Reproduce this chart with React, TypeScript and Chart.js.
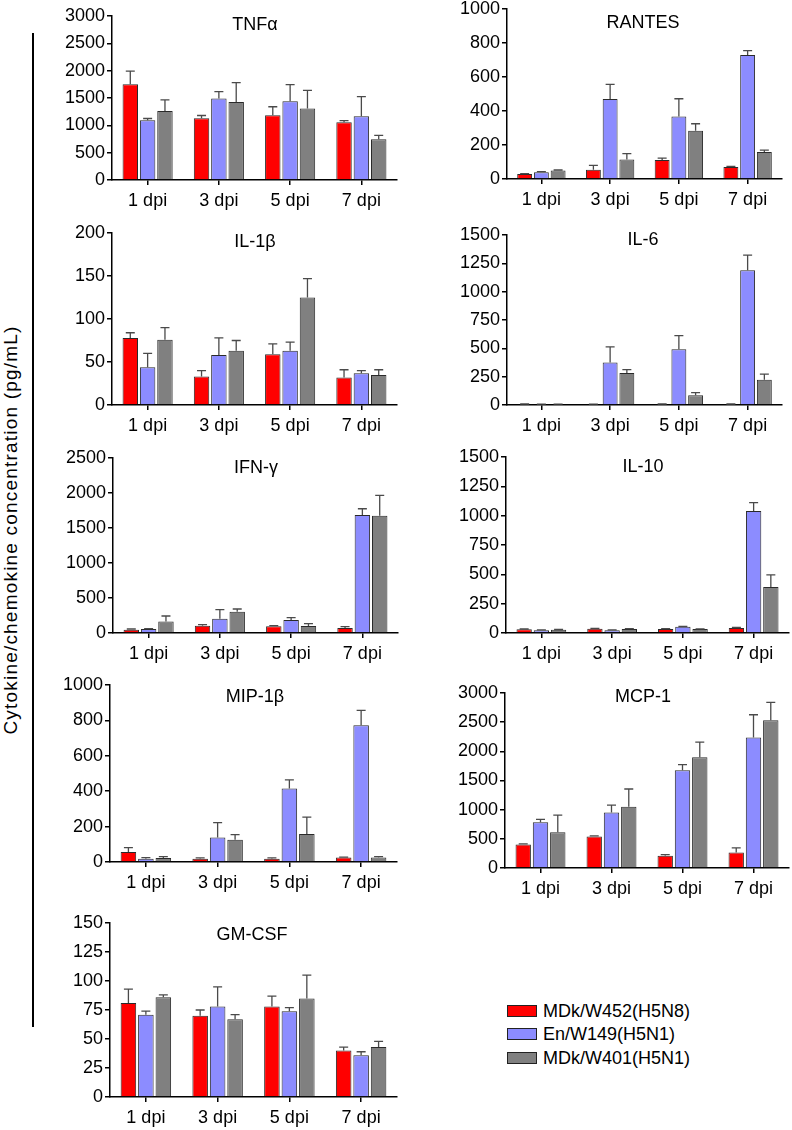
import React, { useEffect, useRef } from "react";
import { Chart, registerables } from "chart.js";

Chart.register(...registerables);

const FONT = "'Liberation Sans', Arial, Helvetica, sans-serif";

// ---------------- data ----------------
const categories = ["1 dpi", "3 dpi", "5 dpi", "7 dpi"];
const seriesNames = ["MDk/W452(H5N8)", "En/W149(H5N1)", "MDk/W401(H5N1)"];

// TNFα
const tnfRed = [1750, 1130, 1185, 1055];
const tnfRedErr = [240, 50, 155, 30];
const tnfBlue = [1095, 1490, 1440, 1165];
const tnfBlueErr = [30, 125, 305, 360];
const tnfGray = [1260, 1425, 1310, 745];
const tnfGrayErr = [205, 355, 330, 70];

// RANTES
const rantesRed = [30, 55, 112, 71];
const rantesRedErr = [2, 25, 11, 3];
const rantesBlue = [40, 470, 368, 729];
const rantesBlueErr = [3, 87, 104, 26];
const rantesGray = [50, 114, 284, 159];
const rantesGrayErr = [3, 35, 41, 11];

// IL-1β
const il1Red = [78, 33, 59, 32];
const il1RedErr = [6, 7, 12, 9];
const il1Blue = [44, 58, 63, 37];
const il1BlueErr = [16, 20, 10, 3];
const il1Gray = [76, 63, 125, 35];
const il1GrayErr = [14, 12, 22, 6];

// IL-6
const il6Red = [8, 6, 8, 8];
const il6RedErr = [1, 1, 1, 1];
const il6Blue = [6, 376, 491, 1188];
const il6BlueErr = [1, 136, 121, 135];
const il6Gray = [6, 282, 85, 223];
const il6GrayErr = [1, 30, 24, 50];

// IFN-γ
const ifnRed = [48, 105, 95, 71];
const ifnRedErr = [9, 14, 10, 19];
const ifnBlue = [57, 205, 186, 1685];
const ifnBlueErr = [5, 128, 33, 90];
const ifnGray = [163, 305, 100, 1675];
const ifnGrayErr = [80, 38, 33, 290];

// IL-10
const il10Red = [31, 37, 34, 43];
const il10RedErr = [3, 3, 3, 4];
const il10Blue = [23, 23, 54, 1040];
const il10BlueErr = [3, 3, 3, 71];
const il10Gray = [28, 34, 34, 391];
const il10GrayErr = [2, 3, 2, 105];

// MIP-1β
const mipRed = [57, 19, 19, 25];
const mipRedErr = [24, 4, 4, 3];
const mipBlue = [19, 138, 415, 772];
const mipBlueErr = [6, 85, 49, 85];
const mipGray = [23, 126, 158, 25];
const mipGrayErr = [7, 29, 95, 5];

// MCP-1
const mcpRed = [402, 539, 212, 264];
const mcpRedErr = [11, 12, 17, 80];
const mcpBlue = [786, 952, 1675, 2237];
const mcpBlueErr = [46, 126, 97, 390];
const mcpGray = [614, 1050, 1899, 2535];
const mcpGrayErr = [292, 304, 258, 304];

// GM-CSF
const gmRed = [81, 70, 78, 40];
const gmRedErr = [12, 5, 9, 3];
const gmBlue = [71, 78, 74, 36];
const gmBlueErr = [3, 17, 3, 3];
const gmGray = [86, 67, 85, 43];
const gmGrayErr = [2, 4, 20, 5];

type PanelDef = {
  title: string;
  max: number;
  step: number;
  values: number[][];
  errors: number[][];
};

const panels: PanelDef[] = [
  { title: "TNFα", max: 3000, step: 500, values: [tnfRed, tnfBlue, tnfGray], errors: [tnfRedErr, tnfBlueErr, tnfGrayErr] },
  { title: "RANTES", max: 1000, step: 200, values: [rantesRed, rantesBlue, rantesGray], errors: [rantesRedErr, rantesBlueErr, rantesGrayErr] },
  { title: "IL-1β", max: 200, step: 50, values: [il1Red, il1Blue, il1Gray], errors: [il1RedErr, il1BlueErr, il1GrayErr] },
  { title: "IL-6", max: 1500, step: 250, values: [il6Red, il6Blue, il6Gray], errors: [il6RedErr, il6BlueErr, il6GrayErr] },
  { title: "IFN-γ", max: 2500, step: 500, values: [ifnRed, ifnBlue, ifnGray], errors: [ifnRedErr, ifnBlueErr, ifnGrayErr] },
  { title: "IL-10", max: 1500, step: 250, values: [il10Red, il10Blue, il10Gray], errors: [il10RedErr, il10BlueErr, il10GrayErr] },
  { title: "MIP-1β", max: 1000, step: 200, values: [mipRed, mipBlue, mipGray], errors: [mipRedErr, mipBlueErr, mipGrayErr] },
  { title: "MCP-1", max: 3000, step: 500, values: [mcpRed, mcpBlue, mcpGray], errors: [mcpRedErr, mcpBlueErr, mcpGrayErr] },
  { title: "GM-CSF", max: 150, step: 25, values: [gmRed, gmBlue, gmGray], errors: [gmRedErr, gmBlueErr, gmGrayErr] },
];

// ---------------- layout / style ----------------
const seriesColors = ["#FF0000", "#8C8CFF", "#808080"];

type Box = { left: number; right: number; top: number; bottom: number; titleX: number; titleY: number };
const boxes: Box[] = [
  { left: 112, right: 397, top: 16, bottom: 180, titleX: 255, titleY: 25 },
  { left: 507, right: 782, top: 9, bottom: 179, titleX: 643, titleY: 23 },
  { left: 112, right: 397, top: 233, bottom: 405, titleX: 255, titleY: 242 },
  { left: 507, right: 782, top: 235, bottom: 405, titleX: 643, titleY: 240 },
  { left: 113, right: 398, top: 458, bottom: 633, titleX: 256, titleY: 468 },
  { left: 506, right: 789, top: 457, bottom: 633, titleX: 643, titleY: 467 },
  { left: 110, right: 397, top: 685, bottom: 862, titleX: 255, titleY: 697 },
  { left: 505, right: 789, top: 693, bottom: 868, titleX: 643, titleY: 697 },
  { left: 110, right: 397, top: 923, bottom: 1097, titleX: 252, titleY: 935 },
];

const Y_W = 64;
const X_H = 38;
const PAD_T = 14;
const PAD_R = 10;
const TICK_SIZE = 18;
const TITLE_SIZE = 18;

const errorBarPlugin = {
  id: "errorBars",
  afterDatasetsDraw(chart: any) {
    const ctx = chart.ctx;
    const yScale = chart.scales.y;
    ctx.save();
    ctx.strokeStyle = "#4a4a4a";
    ctx.lineWidth = 1.3;
    chart.data.datasets.forEach((ds: any, i: number) => {
      const meta = chart.getDatasetMeta(i);
      meta.data.forEach((el: any, j: number) => {
        const v = ds.data[j];
        const e = ds.errors ? ds.errors[j] : 0;
        if (!e) return;
        const x = el.x;
        const yb = el.y;
        const yt = yScale.getPixelForValue(v + e);
        ctx.beginPath();
        ctx.moveTo(x, yb);
        ctx.lineTo(x, yt);
        ctx.moveTo(x - 4.5, yt);
        ctx.lineTo(x + 4.5, yt);
        ctx.stroke();
      });
    });
    ctx.restore();
  },
};

function Panel({ def, box }: { def: PanelDef; box: Box }) {
  const ref = useRef<HTMLCanvasElement>(null);
  const w = box.right - box.left + Y_W + PAD_R;
  const h = box.bottom - box.top + PAD_T + X_H;
  const cLeft = box.left - Y_W;
  const cTop = box.top - PAD_T;

  useEffect(() => {
    const titlePlugin = {
      id: "panelTitle",
      afterDraw(chart: any) {
        const ctx = chart.ctx;
        ctx.save();
        ctx.fillStyle = "#000";
        ctx.font = `${TITLE_SIZE}px ${FONT}`;
        ctx.textAlign = "center";
        ctx.textBaseline = "middle";
        ctx.fillText(def.title, box.titleX - cLeft, box.titleY - cTop);
        ctx.restore();
      },
    };
    const axisGrid = {
      display: true,
      drawOnChartArea: false,
      drawTicks: true,
      tickLength: 5,
      color: "#000",
      lineWidth: 1.5,
    };
    const chart = new Chart(ref.current as HTMLCanvasElement, {
      type: "bar",
      data: {
        labels: categories,
        datasets: def.values.map((v, i) => ({
          label: seriesNames[i],
          data: v,
          errors: def.errors[i],
          backgroundColor: seriesColors[i],
          borderColor: "#2a2a2a",
          borderWidth: 1,
          categoryPercentage: 0.73,
          barPercentage: 0.89,
        })) as any,
      },
      options: {
        animation: false,
        responsive: false,
        maintainAspectRatio: false,
        devicePixelRatio: 1,
        layout: { padding: { left: 0, top: PAD_T, right: PAD_R, bottom: 0 } },
        plugins: {
          legend: { display: false },
          tooltip: { enabled: false },
          title: { display: false },
        },
        scales: {
          x: {
            offset: true,
            grid: { ...axisGrid, offset: false },
            border: { display: true, color: "#000", width: 1.5 },
            ticks: {
              color: "#000",
              font: { family: FONT, size: TICK_SIZE },
              padding: 5,
              maxRotation: 0,
              autoSkip: false,
            },
            afterFit: (s: any) => {
              s.height = X_H;
            },
          },
          y: {
            min: 0,
            max: def.max,
            grid: axisGrid,
            border: { display: true, color: "#000", width: 1.5 },
            ticks: {
              stepSize: def.step,
              color: "#000",
              font: { family: FONT, size: TICK_SIZE },
              padding: 2,
              callback: (v: any) => String(v),
            },
            afterFit: (s: any) => {
              s.width = Y_W;
            },
          },
        },
      } as any,
      plugins: [errorBarPlugin, titlePlugin],
    });
    return () => chart.destroy();
  }, []);

  return (
    <canvas
      ref={ref}
      width={w}
      height={h}
      style={{ position: "absolute", left: cLeft, top: cTop, width: w, height: h }}
    />
  );
}

const legendRows = [1011, 1034, 1058];

export default function App() {
  return (
    <div
      style={{
        position: "absolute",
        left: 0,
        top: 0,
        width: 792,
        height: 1130,
        background: "#fff",
        fontFamily: FONT,
        overflow: "hidden",
      }}
    >
      {panels.map((p, i) => (
        <Panel key={p.title} def={p} box={boxes[i]} />
      ))}
      <div
        style={{
          position: "absolute",
          left: 32,
          top: 33,
          width: 1.5,
          height: 994,
          background: "#000",
        }}
      />
      <div
        style={{
          position: "absolute",
          left: 11,
          top: 530,
          transform: "translate(-50%, -50%) rotate(-90deg)",
          whiteSpace: "nowrap",
          fontSize: 19,
          letterSpacing: 1.2,
          color: "#000",
        }}
      >
        Cytokine/chemokine concentration (pg/mL)
      </div>
      {seriesNames.map((n, i) => (
        <div
          key={n}
          style={{
            position: "absolute",
            left: 507,
            top: legendRows[i] - 11,
            height: 22,
            display: "flex",
            alignItems: "center",
            whiteSpace: "nowrap",
          }}
        >
          <div
            style={{
              width: 28,
              height: 10,
              background: seriesColors[i],
              border: "1px solid #222",
              marginRight: 6,
            }}
          />
          <span style={{ fontSize: 18, color: "#000" }}>{n}</span>
        </div>
      ))}
    </div>
  );
}
